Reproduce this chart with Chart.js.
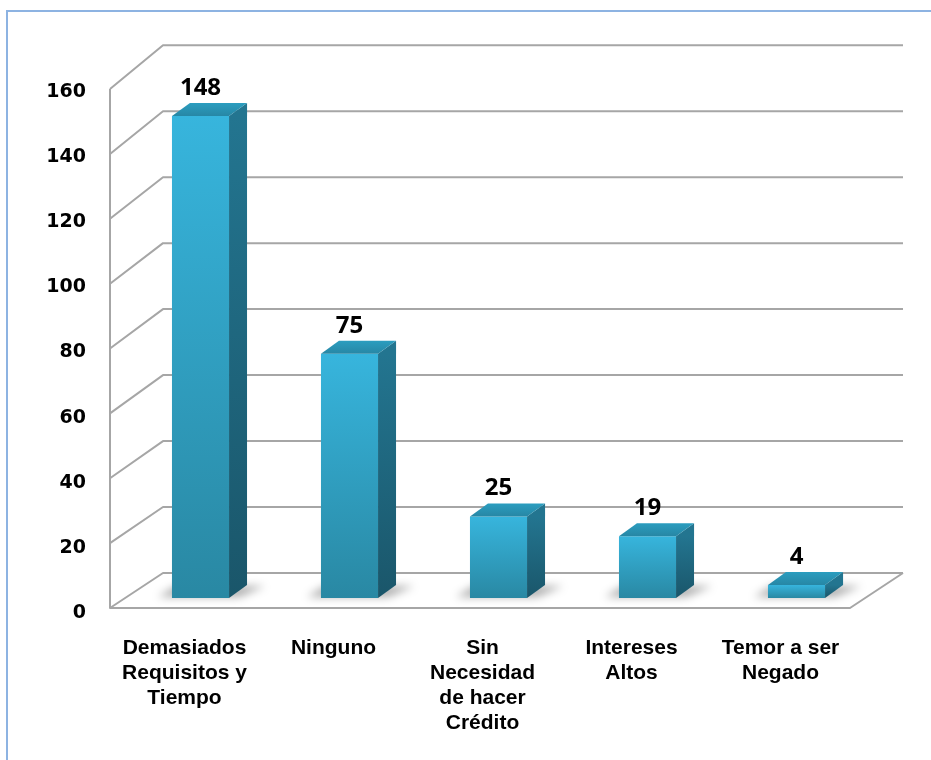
<!DOCTYPE html>
<html>
<head>
<meta charset="utf-8">
<script src="https://cdn.jsdelivr.net/npm/chart.js@4/dist/chart.umd.min.js"></script>
<style>
  html, body { margin: 0; padding: 0; background: #fff; }
  canvas { display: block; }
</style>
</head>
<body>
<canvas id="razones" width="931" height="760"></canvas>
<script>
// chart data
const categories = [
    ["Demasiados", "Requisitos y", "Tiempo"],
    "Ninguno",
    ["Sin", "Necesidad", "de hacer", "Crédito"],
    ["Intereses", "Altos"],
    ["Temor a ser", "Negado"]
];
const values = [148, 75, 25, 19, 4];
const yMin = 0;
const yMax = 160;
const yStep = 20;

// 3D look (pixels)
const barDepthX = 18, barDepthY = 13;
const frontDX = -16, frontDY = 10;
const backDX = 37, backDY = -25;

function planeY(ys, v, dy, s) {
    const y0 = ys.getPixelForValue(0);
    return y0 + dy - (y0 - ys.getPixelForValue(v)) * s;
}

const cube3d = {
    id: 'cube3d',
    beforeDraw(chart) {
        const c = chart.ctx;
        c.save();
        c.strokeStyle = '#8db3e2';
        c.lineWidth = 2;
        c.beginPath();
        c.moveTo(7, 760);
        c.lineTo(7, 11);
        c.lineTo(931, 11);
        c.stroke();
        c.restore();
    },
    beforeDatasetsDraw(chart) {
        const c = chart.ctx;
        const ca = chart.chartArea;
        const ys = chart.scales.y;
        const fx = ca.left + frontDX, bx = ca.left + backDX;
        const fxR = ca.right - 21, bxR = ca.right + 32;
        c.save();
        c.strokeStyle = '#a6a6a6';
        c.lineWidth = 2;
        c.lineJoin = 'round';
        for (let v = yMin; v <= yMax; v += yStep) {
            const fy = planeY(ys, v, frontDY, 0.996);
            const by = planeY(ys, v, backDY, 1.013);
            c.beginPath();
            c.moveTo(fx, fy);
            c.lineTo(bx, by);
            c.lineTo(bxR, by);
            c.stroke();
        }
        // front axis and floor edges
        const f0 = planeY(ys, 0, frontDY, 0.996);
        const b0 = planeY(ys, 0, backDY, 1.013);
        c.beginPath();
        c.moveTo(fx, planeY(ys, yMax, frontDY, 0.996));
        c.lineTo(fx, f0);
        c.lineTo(fxR, f0);
        c.lineTo(bxR, b0);
        c.stroke();

        // soft floor shadows
        const meta = chart.getDatasetMeta(0);
        c.filter = 'blur(4px)';
        c.fillStyle = 'rgba(0,0,0,0.32)';
        meta.data.forEach(bar => {
            const x0 = bar.x - bar.width / 2, x1 = bar.x + bar.width / 2;
            const yb = bar.base;
            c.beginPath();
            c.moveTo(x0 - 14, yb - 1);
            c.lineTo(x0 + 4, yb - 12);
            c.lineTo(x1 + barDepthX + 18, yb - 12);
            c.lineTo(x1 + 10, yb - 1);
            c.closePath();
            c.fill();
        });
        c.restore();
    },
    afterDatasetsDraw(chart) {
        const c = chart.ctx;
        const meta = chart.getDatasetMeta(0);
        c.save();
        meta.data.forEach((bar, i) => {
            const x0 = bar.x - bar.width / 2, x1 = bar.x + bar.width / 2;
            const yt = bar.y, yb = bar.base;
            // side face
            const sg = c.createLinearGradient(0, yt, 0, yb);
            sg.addColorStop(0, '#237590');
            sg.addColorStop(1, '#1a566a');
            c.fillStyle = sg;
            c.beginPath();
            c.moveTo(x1, yt);
            c.lineTo(x1 + barDepthX, yt - barDepthY);
            c.lineTo(x1 + barDepthX, yb - barDepthY);
            c.lineTo(x1, yb);
            c.closePath();
            c.fill();
            // top face
            const tg = c.createLinearGradient(0, yt - barDepthY, 0, yt);
            tg.addColorStop(0, '#2b9dbf');
            tg.addColorStop(1, '#2787a5');
            c.fillStyle = tg;
            c.beginPath();
            c.moveTo(x0, yt);
            c.lineTo(x0 + barDepthX, yt - barDepthY);
            c.lineTo(x1 + barDepthX, yt - barDepthY);
            c.lineTo(x1, yt);
            c.closePath();
            c.fill();
            // value label
            c.fillStyle = '#000';
            c.font = 'bold 24px "Open Sans", "DejaVu Sans", sans-serif';
            c.textAlign = 'center';
            c.textBaseline = 'middle';
            c.fillText(String(values[i]), bar.x, yt - 28);
        });
        c.restore();
    }
};

const ctx = document.getElementById('razones').getContext('2d');
const chart = new Chart(ctx, {
    type: 'bar',
    data: {
        labels: categories,
        datasets: [{
            data: values,
            backgroundColor: (context) => {
                const ca = context.chart.chartArea;
                if (!ca) return '#30a6cb';
                const ys = context.chart.scales.y;
                const top = ys.getPixelForValue(values[context.dataIndex]);
                const g = context.chart.ctx.createLinearGradient(0, top, 0, ys.getPixelForValue(0));
                g.addColorStop(0, '#37b5dd');
                g.addColorStop(1, '#2988a3');
                return g;
            },
            borderWidth: 0,
            barPercentage: 0.383,
            categoryPercentage: 1
        }]
    },
    options: {
        responsive: false,
        animation: false,
        devicePixelRatio: 1,
        layout: { padding: { left: 0, top: 77, right: 60, bottom: 0 } },
        plugins: {
            legend: { display: false },
            tooltip: { enabled: false }
        },
        scales: {
            x: {
                grid: { display: false, drawTicks: false },
                border: { display: false },
                ticks: {
                    color: '#000',
                    font: { family: '"Liberation Sans", Arial, sans-serif', size: 21, weight: 'bold', lineHeight: 1.18 },
                    padding: 38,
                    labelOffset: -16,
                    maxRotation: 0,
                    autoSkip: false
                },
                afterFit: (s) => { s.height = 162; }
            },
            y: {
                min: yMin,
                max: yMax,
                grid: { display: false, drawTicks: false },
                border: { display: false },
                ticks: {
                    stepSize: yStep,
                    color: '#000',
                    font: { family: '"DejaVu Sans", sans-serif', size: 19, weight: 'bold' },
                    padding: 40,
                    labelOffset: 15
                },
                afterFit: (s) => { s.width = 126; }
            }
        }
    },
    plugins: [cube3d]
});
</script>
</body>
</html>
